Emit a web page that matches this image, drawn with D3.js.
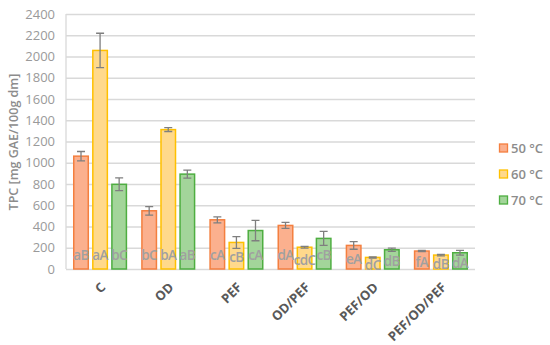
<!DOCTYPE html>
<html>
<head>
<meta charset="utf-8">
<script src="https://cdn.jsdelivr.net/npm/d3@7"></script>
<style>
body { margin: 0; background: #fff; }
text { font-family: "Open Sans", "Liberation Sans", sans-serif; }
</style>
</head>
<body>
<svg width="550" height="345"></svg>
<script>
var groups = ["C", "OD", "PEF", "OD/PEF", "PEF/OD", "PEF/OD/PEF"];
var temps = ["50 °C", "60 °C", "70 °C"];

// TPC means and error (sd) per temperature
var tpc50 = [1062, 548, 463, 410, 222, 169];
var tpc60 = [2057, 1312, 250, 205, 109, 131];
var tpc70 = [797, 893, 362, 288, 181, 153];
var err50 = [44, 40, 28, 28, 36, 5];
var err60 = [162, 18, 55, 8, 6, 7];
var err70 = [60, 38, 96, 66, 15, 22];
var lab50 = ["aB", "bC", "cA", "dA", "eA", "fA"];
var lab60 = ["aA", "bA", "cB", "cdC", "dC", "dB"];
var lab70 = ["bC", "aB", "cA", "cB", "dB", "dA"];

var yTicks = d3.range(0, 2401, 200);

var fills = ["#fbb08e", "#ffd98c", "#a3d59a"];
var strokes = ["#f47f3f", "#ffc000", "#4eae41"];

var svg = d3.select("svg");
var margin = { top: 14, left: 66, right: 75, bottom: 76 };
var width = 550 - margin.left - margin.right;
var height = 345 - margin.top - margin.bottom;
var g = svg.append("g").attr("transform", "translate(" + margin.left + "," + margin.top + ")");

var x0 = d3.scaleBand().domain(groups).range([0, width]);
var x1 = d3.scaleBand().domain(temps).range([7, x0.bandwidth() - 7]).paddingInner(0.16);
var y = d3.scaleLinear().domain([0, 2400]).range([height, 0]);

var series = [
    { t: temps[0], vals: tpc50, errs: err50, labs: lab50 },
    { t: temps[1], vals: tpc60, errs: err60, labs: lab60 },
    { t: temps[2], vals: tpc70, errs: err70, labs: lab70 }
];

var rows = [];
series.forEach(function (s, si) {
    groups.forEach(function (gr, i) {
        rows.push({ group: gr, t: s.t, si: si, v: s.vals[i], e: s.errs[i], lab: s.labs[i] });
    });
});

// gridlines
g.append("g")
    .call(d3.axisLeft(y).tickValues(yTicks).tickSize(-width).tickFormat(""))
    .call(function (a) {
        a.select(".domain").remove();
        a.selectAll("line").attr("stroke", "#d9d9d9").attr("stroke-width", 1.3);
    });

// y axis labels
g.append("g")
    .call(d3.axisLeft(y).tickValues(yTicks).tickSize(0).tickPadding(11).tickFormat(d3.format("d")))
    .call(function (a) {
        a.select(".domain").remove();
        a.selectAll("text").attr("fill", "#9a9a9a").style("font-size", "13px");
    });

g.append("line")
    .attr("x1", 0).attr("x2", 0)
    .attr("y1", 0).attr("y2", height)
    .attr("stroke", "#d9d9d9").attr("stroke-width", 1.3);

var bars = g.selectAll(".bar")
    .data(rows)
    .enter().append("g")
    .attr("class", "bar")
    .attr("transform", function (d) { return "translate(" + (x0(d.group) + x1(d.t)) + ",0)"; });

bars.append("rect")
    .attr("x", 0.75)
    .attr("width", x1.bandwidth() - 1.5)
    .attr("y", function (d) { return y(d.v); })
    .attr("height", function (d) { return height - y(d.v); })
    .attr("fill", function (d) { return fills[d.si]; })
    .attr("stroke", function (d) { return strokes[d.si]; })
    .attr("stroke-width", 1.5);

// error bars
var cx = x1.bandwidth() / 2;
bars.append("path")
    .attr("d", function (d) {
        var t = y(d.v + d.e), b = y(d.v - d.e);
        return "M" + cx + "," + t + "V" + b +
            "M" + (cx - 4) + "," + t + "H" + (cx + 4) +
            "M" + (cx - 4) + "," + b + "H" + (cx + 4);
    })
    .attr("stroke", "#7f7f7f")
    .attr("stroke-width", 1.3)
    .attr("fill", "none");

// significance letters
bars.append("text")
    .attr("x", cx)
    .attr("y", function (d) {
        var mid = (y(d.v) + height) / 2 + 2;
        return Math.max(height - 14, mid);
    })
    .attr("dy", "0.35em")
    .attr("text-anchor", "middle")
    .attr("fill", "#a0a0a0")
    .style("font-size", "13.5px")
    .style("font-weight", "600")
    .style("letter-spacing", "-0.6px")
    .text(function (d) { return d.lab; });

// x axis labels
g.append("g")
    .selectAll("text")
    .data(groups)
    .enter().append("text")
    .attr("transform", function (d) {
        return "translate(" + (x0(d) + x0.bandwidth() / 2 + 3) + "," + (height + 16) + ") rotate(-45)";
    })
    .attr("text-anchor", "end")
    .attr("dy", "0.35em")
    .attr("fill", "#595959")
    .style("font-size", "13px")
    .style("font-weight", "700")
    .text(function (d) { return d; });

// y title
svg.append("text")
    .attr("transform", "translate(14," + 142 + ") rotate(-90)")
    .attr("text-anchor", "middle")
    .attr("dy", "0.35em")
    .attr("fill", "#8c8c8c")
    .style("font-size", "12.5px")
    .style("font-weight", "600")
    .text("TPC [mg GAE/100g dm]");

// legend
var legend = svg.append("g")
    .attr("transform", "translate(499,148)")
    .selectAll("g")
    .data(temps)
    .enter().append("g")
    .attr("transform", function (d, i) { return "translate(0," + i * 26 + ")"; });

legend.append("rect")
    .attr("x", 0.5).attr("y", -4)
    .attr("width", 8).attr("height", 8)
    .attr("fill", function (d, i) { return fills[i]; })
    .attr("stroke", function (d, i) { return strokes[i]; })
    .attr("stroke-width", 1.3);

legend.append("text")
    .attr("x", 12)
    .attr("dy", "0.35em")
    .attr("fill", "#8c8c8c")
    .style("font-size", "13px")
    .style("font-weight", "600")
    .text(function (d) { return d; });
</script>
</body>
</html>
